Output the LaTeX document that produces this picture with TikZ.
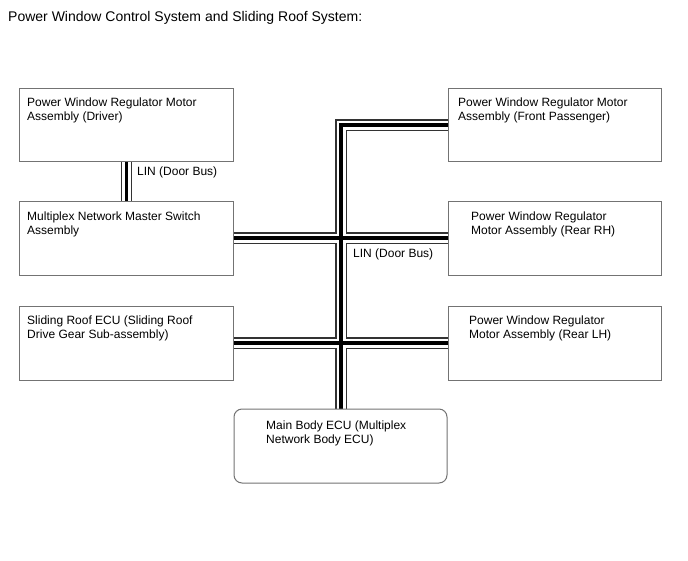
\documentclass[tikz,border=0pt]{standalone}
\usepackage{fontspec}
\setmainfont{Liberation Sans}
\begin{document}
\begin{tikzpicture}[x=1pt,y=-1pt,
  box/.style={draw=black!55, line width=1pt, fill=white},
  rbox/.style={box, rounded corners=8pt},
  lbl/.style={anchor=base west, inner sep=0pt, align=left, font=\fontsize{12}{14}\selectfont},
  busout/.style={line width=11.5pt, draw=black!80},
  busgap/.style={line width=9pt, draw=white},
  buscore/.style={line width=3.6pt, draw=black}]
\useasboundingbox (0,0) rectangle (688,560);
\node[anchor=base west, inner sep=0pt, font=\fontsize{14}{16}\selectfont] (title) at (8,21) {Power Window Control System and Sliding Roof System:};
% bus end points
\coordinate (drvTop) at (126.5,161);
\coordinate (mstBot) at (126.5,201);
\coordinate (fpR) at (448,125);
\coordinate (corner) at (341,125);
\coordinate (mbTop) at (341,409);
\coordinate (mstR) at (233,238);
\coordinate (rhL) at (448,238);
\coordinate (srR) at (233,343);
\coordinate (lhL) at (448,343);
% buses: three passes
\foreach \s in {busout,busgap,buscore}{
  \path[\s] (drvTop) -- (mstBot);
  \path[\s, line join=miter] (fpR) -- (corner) -- (mbTop);
  \path[\s] (mstR) -- (rhL);
  \path[\s] (srR) -- (lhL);
}
% boxes
\draw[box] (19,88) rectangle (233,161);
\draw[box] (19,201) rectangle (233,275);
\draw[box] (19,306) rectangle (233,380);
\draw[box] (448,88) rectangle (661,161);
\draw[box] (448,201) rectangle (661,275);
\draw[box] (448,306) rectangle (661,380);
\draw[rbox] (234,409) rectangle (447,483);
% texts (base anchor = last line baseline)
\node[lbl] (drv) at (27,120) {Power Window Regulator Motor\\Assembly (Driver)};
\node[lbl] (mst) at (27,234) {Multiplex Network Master Switch\\Assembly};
\node[lbl] (sr) at (27,338) {Sliding Roof ECU (Sliding Roof\\Drive Gear Sub-assembly)};
\node[lbl] (fp) at (458,120) {Power Window Regulator Motor\\Assembly (Front Passenger)};
\node[lbl] (rh) at (471,234) {Power Window Regulator\\Motor Assembly (Rear RH)};
\node[lbl] (lh) at (469,338) {Power Window Regulator\\Motor Assembly (Rear LH)};
\node[lbl] (mb) at (266,443) {Main Body ECU (Multiplex\\Network Body ECU)};
\node[lbl] (lin1) at (137,175) {LIN (Door Bus)};
\node[lbl] (lin2) at (353,257) {LIN (Door Bus)};
\end{tikzpicture}
\end{document}
